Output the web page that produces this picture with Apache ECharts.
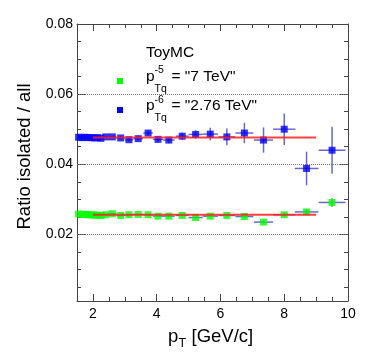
<!DOCTYPE html>
<html>
<head>
<meta charset="utf-8">
<script src="https://cdn.jsdelivr.net/npm/echarts@6/dist/echarts.min.js"></script>
<style>
html, body { margin: 0; padding: 0; background: #fff; }
#main { width: 374px; height: 357px; }
</style>
</head>
<body>
<div id="main"></div>
<script>
// bin centres and half widths in pT
var ptBins = [1.55, 1.65, 1.75, 1.85, 1.95, 2.05, 2.15, 2.25, 2.4, 2.61, 2.87, 3.13, 3.42, 3.73, 4.04, 4.38, 4.8, 5.22, 5.68, 6.2, 6.75, 7.35, 8.0, 8.7, 9.5];
var ptErr = [0.05, 0.05, 0.05, 0.05, 0.05, 0.05, 0.05, 0.05, 0.1, 0.12, 0.13, 0.13, 0.15, 0.15, 0.16, 0.18, 0.2, 0.22, 0.24, 0.26, 0.28, 0.3, 0.35, 0.37, 0.42];
// p^-5 "7 TeV"
var ratio7 = [0.0258, 0.0257, 0.0257, 0.0256, 0.0256, 0.0255, 0.0255, 0.0254, 0.0256, 0.0259, 0.0254, 0.0256, 0.0257, 0.0256, 0.0252, 0.0252, 0.0254, 0.0248, 0.0252, 0.0254, 0.0251, 0.0235, 0.0256, 0.0264, 0.0291];
var ratio7Err = [0.0001, 0.0001, 0.0001, 0.0001, 0.0001, 0.0001, 0.0001, 0.0001, 0.0001, 0.0001, 0.0001, 0.0001, 0.0001, 0.0001, 0.0002, 0.0002, 0.0002, 0.0002, 0.0002, 0.0003, 0.0003, 0.0004, 0.0005, 0.0008, 0.0012];
// p^-6 "2.76 TeV"
var ratio276 = [0.0477, 0.0476, 0.0477, 0.0476, 0.0476, 0.0475, 0.0476, 0.0474, 0.0478, 0.0478, 0.0475, 0.047, 0.0473, 0.0489, 0.0471, 0.0469, 0.048, 0.0485, 0.0486, 0.0478, 0.0489, 0.0469, 0.05, 0.0388, 0.044];
var ratio276Err = [0.0003, 0.0003, 0.0003, 0.0003, 0.0003, 0.0003, 0.0003, 0.0003, 0.0003, 0.0004, 0.0005, 0.0005, 0.0006, 0.0007, 0.0008, 0.0009, 0.001, 0.0012, 0.0018, 0.0024, 0.0029, 0.0036, 0.0045, 0.0048, 0.0067];
// constant fits
var fitX = [2, 9];
var fit7 = [0.0256, 0.0256];
var fit276 = [0.0476, 0.0476];

var xLabels = [2, 4, 6, 8, 10];
var xMajor = [2, 4, 6, 8];
var xMinor = [2.5, 3, 3.5, 4.5, 5, 5.5, 6.5, 7, 7.5, 8.5, 9, 9.5];
var yLabels = [0.02, 0.04, 0.06, 0.08];
var yMajor = [0.02, 0.04, 0.06];
var yMinor = [0.005, 0.01, 0.015, 0.025, 0.03, 0.035, 0.045, 0.05, 0.055, 0.065, 0.07, 0.075];
var gridLines = [0.02, 0.04, 0.06];

var FONT = 'Liberation Sans';
var frameColor = '#444';
var barColor = 'rgba(40,40,190,0.7)';

function makeAxis(dim, pos, ticks, len, labels, showLine) {
    var ax = {
        type: 'value',
        position: pos,
        min: dim === 'x' ? 1.5 : 0.001,
        max: dim === 'x' ? 10 : 0.08,
        axisLine: { show: showLine, onZero: false, lineStyle: { color: frameColor, width: 1 } },
        axisTick: { show: true, inside: true, length: len, customValues: ticks, lineStyle: { color: frameColor } },
        axisLabel: { show: false },
        splitLine: { show: false }
    };
    if (labels) {
        ax.axisLabel = {
            show: true, customValues: labels, color: '#000', fontFamily: FONT, fontSize: 14,
            margin: dim === 'x' ? 6 : 4,
            formatter: function (v) { return dim === 'x' ? String(v) : v.toFixed(2); }
        };
    }
    return ax;
}

function errBars(xs, ys, exs, eys) {
    return xs.map(function (x, i) { return [x, ys[i], exs[i], eys[i]]; });
}

function renderBar(params, api) {
    var x = api.value(0), y = api.value(1), ex = api.value(2), ey = api.value(3);
    var a = api.coord([x - ex, y]), b = api.coord([x + ex, y]);
    var c = api.coord([x, y - ey]), d = api.coord([x, y + ey]);
    var st = { stroke: barColor, lineWidth: 1.5 };
    return {
        type: 'group',
        children: [
            { type: 'line', shape: { x1: a[0], y1: a[1], x2: b[0], y2: b[1] }, style: st },
            { type: 'line', shape: { x1: c[0], y1: c[1], x2: d[0], y2: d[1] }, style: st }
        ]
    };
}

function pts(xs, ys) {
    return xs.map(function (x, i) { return [x, ys[i]]; });
}

var myChart = echarts.init(document.getElementById('main'));
var option = {
    animation: false,
    backgroundColor: '#fff',
    grid: { left: 77, right: 26, top: 24, bottom: 56 },
    xAxis: [
        makeAxis('x', 'bottom', xMajor, 7, xLabels, true),
        makeAxis('x', 'bottom', xMinor, 4, null, false),
        makeAxis('x', 'top', xMajor, 7, null, true),
        makeAxis('x', 'top', xMinor, 4, null, false)
    ],
    yAxis: [
        makeAxis('y', 'left', yMajor, 8, yLabels, true),
        makeAxis('y', 'left', yMinor, 4, null, false),
        makeAxis('y', 'right', yMajor, 8, null, true),
        makeAxis('y', 'right', yMinor, 4, null, false)
    ],
    series: [
        {
            type: 'line', data: [], silent: true,
            markLine: {
                silent: true, symbol: 'none', label: { show: false },
                lineStyle: { type: 'dotted', color: '#777', width: 1 },
                data: gridLines.map(function (v) { return { yAxis: v }; })
            }
        },
        { type: 'custom', renderItem: renderBar, data: errBars(ptBins, ratio7, ptErr, ratio7Err), z: 2 },
        { type: 'custom', renderItem: renderBar, data: errBars(ptBins, ratio276, ptErr, ratio276Err), z: 2 },
        { name: '7 TeV', type: 'scatter', symbol: 'rect', symbolSize: 7, itemStyle: { color: '#00ff00' }, data: pts(ptBins, ratio7), z: 3 },
        { name: '2.76 TeV', type: 'scatter', symbol: 'rect', symbolSize: 7, itemStyle: { color: '#0000ff' }, data: pts(ptBins, ratio276), z: 3 },
        { type: 'line', showSymbol: false, lineStyle: { color: 'rgba(255,30,30,0.85)', width: 2 }, data: pts(fitX, fit7), z: 4 },
        { type: 'line', showSymbol: false, lineStyle: { color: 'rgba(255,30,30,0.85)', width: 2 }, data: pts(fitX, fit276), z: 4 }
    ],
    graphic: [
        // axis titles
        { type: 'text', x: 25, y: 156.5, rotation: Math.PI / 2,
          style: { text: 'Ratio isolated / all', font: '18.5px ' + FONT, fill: '#000', align: 'center', verticalAlign: 'middle' } },
        { type: 'text', x: 168, y: 337, style: { text: 'p', font: '18.5px ' + FONT, fill: '#000', verticalAlign: 'middle' } },
        { type: 'text', x: 178.5, y: 344, style: { text: 'T', font: '12.5px ' + FONT, fill: '#000', verticalAlign: 'middle' } },
        { type: 'text', x: 191.5, y: 337, style: { text: '[GeV/c]', font: '18.5px ' + FONT, fill: '#000', verticalAlign: 'middle' } },
        // legend
        { type: 'text', x: 146, y: 52.5, style: { text: 'ToyMC', font: '15.5px ' + FONT, fill: '#000', verticalAlign: 'middle' } },
        { type: 'rect', shape: { x: 117, y: 78, width: 6, height: 6 }, style: { fill: '#00ff00' } },
        { type: 'text', x: 146, y: 77, style: { text: 'p', font: '15.5px ' + FONT, fill: '#000', verticalAlign: 'middle' } },
        { type: 'text', x: 154.5, y: 70.5, style: { text: '-5', font: '10.5px ' + FONT, fill: '#000', verticalAlign: 'middle' } },
        { type: 'text', x: 154.5, y: 89.5, style: { text: 'Tq', font: '10.5px ' + FONT, fill: '#000', verticalAlign: 'middle' } },
        { type: 'text', x: 171.5, y: 77, style: { text: '= "7 TeV"', font: '15.5px ' + FONT, fill: '#000', verticalAlign: 'middle' } },
        { type: 'rect', shape: { x: 117, y: 107, width: 6, height: 6 }, style: { fill: '#0000ff' } },
        { type: 'text', x: 146, y: 105.5, style: { text: 'p', font: '15.5px ' + FONT, fill: '#000', verticalAlign: 'middle' } },
        { type: 'text', x: 154.5, y: 100, style: { text: '-6', font: '10.5px ' + FONT, fill: '#000', verticalAlign: 'middle' } },
        { type: 'text', x: 154.5, y: 118.5, style: { text: 'Tq', font: '10.5px ' + FONT, fill: '#000', verticalAlign: 'middle' } },
        { type: 'text', x: 171.5, y: 105.5, style: { text: '= "2.76 TeV"', font: '15.5px ' + FONT, fill: '#000', verticalAlign: 'middle' } }
    ]
};
option && myChart.setOption(option);
</script>
</body>
</html>
